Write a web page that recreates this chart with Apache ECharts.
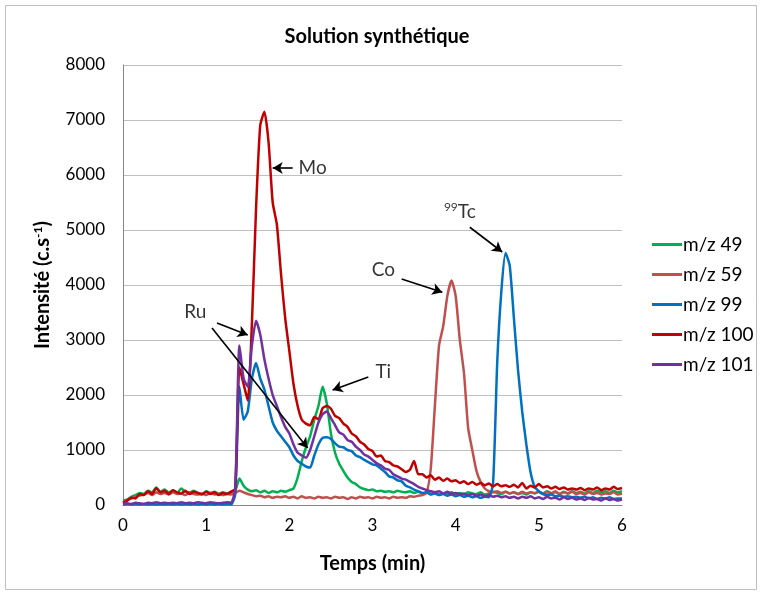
<!DOCTYPE html>
<html>
<head>
<meta charset="utf-8">
<script src="https://cdn.jsdelivr.net/npm/echarts@6/dist/echarts.min.js"></script>
<style>
  html, body { margin: 0; padding: 0; background: #fff; }
  #chart { width: 762px; height: 593px; }
</style>
</head>
<body>
<div id="chart"></div>
<script>
// temps (min), pas de 0.05
const times = [
  0.00, 0.05, 0.10, 0.15, 0.20, 0.25, 0.30, 0.35, 0.40, 0.45,
  0.50, 0.55, 0.60, 0.65, 0.70, 0.75, 0.80, 0.85, 0.90, 0.95,
  1.00, 1.05, 1.10, 1.15, 1.20, 1.25, 1.30, 1.35, 1.40, 1.45,
  1.50, 1.55, 1.60, 1.65, 1.70, 1.75, 1.80, 1.85, 1.90, 1.95,
  2.00, 2.05, 2.10, 2.15, 2.20, 2.25, 2.30, 2.35, 2.40, 2.45,
  2.50, 2.55, 2.60, 2.65, 2.70, 2.75, 2.80, 2.85, 2.90, 2.95,
  3.00, 3.05, 3.10, 3.15, 3.20, 3.25, 3.30, 3.35, 3.40, 3.45,
  3.50, 3.55, 3.60, 3.65, 3.70, 3.75, 3.80, 3.85, 3.90, 3.95,
  4.00, 4.05, 4.10, 4.15, 4.20, 4.25, 4.30, 4.35, 4.40, 4.45,
  4.50, 4.55, 4.60, 4.65, 4.70, 4.75, 4.80, 4.85, 4.90, 4.95,
  5.00, 5.05, 5.10, 5.15, 5.20, 5.25, 5.30, 5.35, 5.40, 5.45,
  5.50, 5.55, 5.60, 5.65, 5.70, 5.75, 5.80, 5.85, 5.90, 5.95,
  6.00
];

const mz49 = [
  80, 100, 150, 180, 220, 200, 260, 230, 320, 240,
  280, 230, 260, 220, 300, 240, 230, 260, 220, 200,
  250, 220, 240, 200, 230, 210, 240, 260, 480, 350,
  280, 250, 270, 230, 260, 220, 250, 230, 260, 240,
  270, 300, 500, 800, 1050, 1250, 1550, 1800, 2150, 1850,
  1300, 950, 750, 620, 500, 420, 380, 320, 290, 270,
  280, 250, 260, 240, 250, 230, 260, 240, 230, 250,
  220, 240, 210, 230, 200, 220, 190, 210, 200, 230,
  200, 220, 190, 230, 210, 200, 230, 190, 210, 240,
  220, 200, 240, 210, 230, 200, 220, 190, 230, 210,
  240, 210, 250, 220, 230, 200, 240, 210, 250, 220,
  240, 210, 250, 220, 260, 230, 250, 220, 260, 230,
  250
];

const mz59 = [
  50, 90, 120, 150, 170, 190, 220, 180, 230, 200,
  220, 190, 230, 200, 210, 180, 220, 200, 190, 210,
  180, 220, 190, 210, 180, 200, 190, 220, 260, 230,
  200, 180, 160, 170, 140, 160, 130, 150, 140, 160,
  130, 150, 120, 160, 130, 140, 120, 150, 130, 140,
  120, 150, 130, 140, 110, 140, 120, 150, 130, 140,
  120, 150, 130, 140, 120, 150, 130, 140, 130, 160,
  150, 170, 180, 220, 650, 1800, 2900, 3250, 3800, 4080,
  3800, 3000, 2400, 1400, 1000, 620, 420, 300, 250, 230,
  250, 220, 240, 210, 230, 200, 240, 210, 230, 220,
  240, 200, 230, 210, 250, 200, 230, 210, 240, 200,
  220, 190, 230, 200, 220, 190, 210, 200, 230, 190,
  210
];

const mz99 = [
  10, 20, 10, 20, 10, 20, 10, 20, 10, 20,
  10, 20, 10, 20, 10, 20, 10, 20, 10, 20,
  10, 20, 10, 20, 10, 20, 10, 200, 2150, 1550,
  1700, 2300, 2580, 2300, 2100, 1800, 1500, 1350, 1250, 1150,
  1050, 900, 800, 750, 700, 680, 900, 1100, 1220, 1230,
  1200, 1120, 1060, 1050, 1000, 980, 900, 870, 820, 780,
  740, 720, 660, 600, 520, 500, 450, 430, 350, 320,
  280, 250, 220, 230, 190, 210, 180, 200, 170, 190,
  160, 180, 150, 170, 140, 160, 130, 150, 140, 400,
  2600, 3900, 4580, 4350, 3400, 2450, 1700, 1100, 600, 330,
  250, 200, 180, 190, 160, 170, 150, 160, 140, 150,
  130, 150, 120, 140, 110, 130, 120, 140, 110, 120,
  120
];

const mz100 = [
  40, 80, 130, 120, 200, 180, 250, 200, 310, 230,
  260, 200, 270, 230, 210, 260, 200, 240, 220, 190,
  240, 200, 230, 180, 220, 200, 240, 300, 2500, 2200,
  1900, 3300, 5400, 6900, 7150, 6600, 5500, 5100, 4200, 3400,
  2800, 2200, 1800, 1550, 1480, 1450, 1600, 1560, 1760, 1800,
  1750, 1620, 1580, 1480, 1420, 1300, 1250, 1150, 1100, 1020,
  980, 880, 900, 800, 780, 720, 700, 650, 600, 640,
  800, 560, 560, 500, 540, 460, 500, 440, 480, 430,
  450, 400, 430, 380, 420, 370, 400, 360, 390, 340,
  380, 340, 360, 330, 370, 320, 400, 300, 350, 320,
  380, 320, 340, 300, 330, 290, 320, 280, 300, 280,
  310, 270, 300, 280, 320, 270, 300, 280, 330, 290,
  310
];

const mz101 = [
  20, 30, 20, 40, 30, 20, 40, 30, 50, 30,
  40, 30, 40, 30, 50, 30, 40, 30, 50, 40,
  30, 50, 40, 30, 40, 50, 40, 300, 2900, 2300,
  2150, 2900, 3350, 3100, 2650, 2300, 2000, 1800, 1600, 1420,
  1300, 1100, 950, 900, 860, 1000, 1250, 1500, 1650, 1700,
  1580, 1450, 1320, 1280, 1180, 1150, 1060, 1000, 920, 880,
  820, 760, 720, 660, 640, 560, 520, 480, 460, 420,
  380, 330, 300, 270, 250, 230, 250, 210, 240, 200,
  220, 190, 210, 180, 200, 170, 190, 160, 180, 150,
  170, 140, 160, 130, 150, 120, 150, 130, 160, 120,
  140, 110, 150, 120, 130, 100, 140, 110, 130, 100,
  120, 90, 130, 100, 110, 80, 120, 90, 110, 80,
  100
];

const seriesNames = ["m/z 49", "m/z 59", "m/z 99", "m/z 100", "m/z 101"];
const seriesValues = [mz49, mz59, mz99, mz100, mz101];
const seriesColors = ["#00B050", "#C0504D", "#0070C0", "#C00000", "#7030A0"];

// annotations : libellés et flèches (en coordonnées temps / intensité)
const labelTexts = ["Mo", "Ru", "Ti", "Co", "{sup|99}Tc"];
const labelPos = [[2.28, 6130], [0.87, 3510], [3.13, 2420], [3.13, 4270], [4.05, 5330]];
const arrows = [
  [[2.04, 6127], [1.80, 6127]],
  [[1.13, 3310], [1.50, 3090]],
  [[1.07, 3220], [2.22, 1036]],
  [[2.95, 2327], [2.52, 2090]],
  [[3.35, 4110], [3.84, 3870]],
  [[4.17, 5050], [4.56, 4600]]
];

const FONT = "Lato";

let chart = echarts.init(document.getElementById("chart"));

let series = seriesNames.map((name, k) => {
  let data = [];
  times.forEach((t, i) => {
    data.push([t, seriesValues[k][i]]);
  });
  return {
    name: name,
    type: "line",
    data: data,
    showSymbol: false,
    symbol: "none",
    smooth: 0.2,
    lineStyle: { width: 2.5, color: seriesColors[k] },
    itemStyle: { color: seriesColors[k] },
    animation: false,
  };
});

series.push({
  name: "annotations",
  type: "scatter",
  symbolSize: 0,
  animation: false,
  data: labelPos.map((p, i) => ({ value: p, label: { formatter: labelTexts[i] } })),
  label: {
    show: true,
    position: "inside",
    color: "#000",
    fontFamily: FONT,
    fontSize: 19,
    rich: {
      sup: { fontSize: 12, verticalAlign: "top", padding: [0, 0, 9, 0], fontFamily: FONT, color: "#000" },
    },
  },
  markLine: {
    silent: true,
    animation: false,
    symbol: ["none", "arrow"],
    symbolSize: [9, 10],
    lineStyle: { color: "#000", width: 1.6, type: "solid" },
    label: { show: false },
    data: arrows.map((a) => [{ coord: a[0] }, { coord: a[1] }]),
  },
});

let option = {
  backgroundColor: "#fff",
  textStyle: { fontFamily: FONT },
  title: {
    text: "Solution synthétique",
    left: 372,
    top: 22,
    textAlign: "center",
    textStyle: { fontFamily: FONT, fontSize: 20, fontWeight: "bold", color: "#000" },
  },
  graphic: [
    {
      type: "rect",
      shape: { x: 5.5, y: 5.5, width: 751, height: 584 },
      style: { fill: "none", stroke: "#bfbfbf", lineWidth: 1 },
      z: -1,
    },
  ],
  legend: {
    data: seriesNames,
    orient: "vertical",
    left: 647,
    top: 230,
    itemWidth: 30,
    itemHeight: 3,
    itemGap: 11,
    icon: "rect",
    textStyle: { fontFamily: FONT, fontSize: 19, color: "#000", lineHeight: 16, padding: [0, 0, 0, -4] },
  },
  grid: { left: 123, right: 140, top: 65, bottom: 88 },
  xAxis: {
    type: "value",
    min: 0,
    max: 6,
    interval: 1,
    name: "Temps (min)",
    nameLocation: "middle",
    nameGap: 49,
    nameTextStyle: { fontFamily: FONT, fontSize: 20, fontWeight: "bold", color: "#000" },
    axisLine: { show: true, lineStyle: { color: "#868686", width: 1 } },
    axisTick: { show: false },
    splitLine: { show: false },
    axisLabel: { fontFamily: FONT, fontSize: 17, color: "#000", margin: 12 },
  },
  yAxis: {
    type: "value",
    min: 0,
    max: 8000,
    interval: 1000,
    name: "Intensité (c.s{sup|-1})",
    nameLocation: "middle",
    nameGap: 70,
    nameTextStyle: {
      fontFamily: FONT,
      fontSize: 20,
      fontWeight: "bold",
      color: "#000",
      rich: {
        sup: { fontFamily: FONT, fontSize: 12, fontWeight: "bold", color: "#000", verticalAlign: "top", padding: [0, 0, 9, 0] },
      },
    },
    axisLine: { show: true, lineStyle: { color: "#868686", width: 1 } },
    axisTick: { show: false },
    splitLine: { show: true, lineStyle: { color: "#c0c0c0", width: 1 } },
    axisLabel: {
      fontFamily: FONT,
      fontSize: 17,
      color: "#000",
      margin: 18,
      formatter: (v) => String(v),
    },
  },
  series: series,
};

chart.setOption(option);
</script>
</body>
</html>
